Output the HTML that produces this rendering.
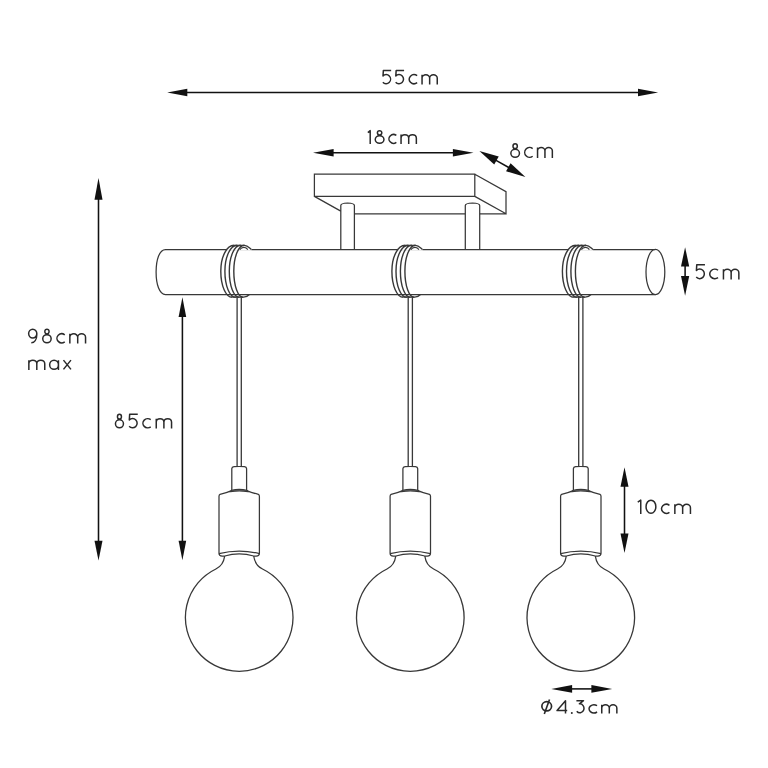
<!DOCTYPE html>
<html><head><meta charset="utf-8"><style>
html,body{margin:0;padding:0;background:#fff;}
svg{display:block;}
svg{font-family:"Liberation Sans", sans-serif;}
</style></head><body>
<svg width="768" height="768" viewBox="0 0 768 768">
<rect width="768" height="768" fill="#fff"/>
<line x1="186.3" y1="92.5" x2="639" y2="92.5" stroke="#111111" stroke-width="1.55"/>
<path d="M167.2 92.5 L187.3 88.7 L187.3 96.3 Z" fill="#111111"/>
<path d="M658.1 92.5 L638 88.7 L638 96.3 Z" fill="#111111"/>
<line x1="332.6" y1="152.8" x2="453.9" y2="152.8" stroke="#111111" stroke-width="1.55"/>
<path d="M313 152.8 L333.6 149 L333.6 156.6 Z" fill="#111111"/>
<path d="M473.5 152.8 L452.9 149 L452.9 156.6 Z" fill="#111111"/>
<line x1="495.61" y1="160.13" x2="509.19" y2="167.77" stroke="#111111" stroke-width="1.55"/>
<path d="M479.4 151 L494.22 164.62 L498.74 156.61 Z" fill="#111111"/>
<path d="M525.4 176.9 L506.06 171.29 L510.58 163.28 Z" fill="#111111"/>
<line x1="685.1" y1="265.6" x2="685.1" y2="276.9" stroke="#111111" stroke-width="1.55"/>
<path d="M685.1 247.2 L689.2 266.6 L681 266.6 Z" fill="#111111"/>
<path d="M685.1 295.8 L689.2 275.9 L681 275.9 Z" fill="#111111"/>
<line x1="98.5" y1="198.7" x2="98.5" y2="541.8" stroke="#111111" stroke-width="1.55"/>
<path d="M98.5 177.9 L102.5 199.7 L94.5 199.7 Z" fill="#111111"/>
<path d="M98.5 560.6 L102.5 540.8 L94.5 540.8 Z" fill="#111111"/>
<line x1="182.4" y1="316" x2="182.4" y2="541.8" stroke="#111111" stroke-width="1.55"/>
<path d="M182.4 297.3 L186.2 317 L178.6 317 Z" fill="#111111"/>
<path d="M182.4 560.3 L186.2 540.8 L178.6 540.8 Z" fill="#111111"/>
<line x1="624.5" y1="485.8" x2="624.5" y2="534.5" stroke="#111111" stroke-width="1.55"/>
<path d="M624.5 467.2 L628.5 486.8 L620.5 486.8 Z" fill="#111111"/>
<path d="M624.5 553.1 L628.5 533.5 L620.5 533.5 Z" fill="#111111"/>
<line x1="571.1" y1="688.9" x2="592.4" y2="688.9" stroke="#111111" stroke-width="1.55"/>
<path d="M551.3 688.9 L572.1 685 L572.1 692.8 Z" fill="#111111"/>
<path d="M612.2 688.9 L591.4 685 L591.4 692.8 Z" fill="#111111"/>
<path d="M314.4 174.2 H474.8 V196.4 H314.4 Z M474.8 174.2 L506 191.7 V213.8 L474.8 196.4 M314.4 196.4 L340.8 211.1 M354.4 213.8 H465.3 M479.7 213.8 H506" stroke="#383838" stroke-width="1.25" fill="none" stroke-linejoin="miter"/>
<path d="M340.8 249.6 V205.5 Q340.8 203.2 347.6 203 Q354.4 203.2 354.4 205.5 V249.6" stroke="#383838" stroke-width="1.25" fill="none"/>
<path d="M465.3 249.6 V205.5 Q465.3 203.2 472.5 203 Q479.7 203.2 479.7 205.5 V249.6" stroke="#383838" stroke-width="1.25" fill="none"/>
<path d="M165.5 249.6 H655.4 M165.5 294.5 H655.4 M165.5 249.6 C159.3 249.6 156.1 260 156.1 272 C156.1 284 159.3 294.5 165.5 294.5" stroke="#383838" stroke-width="1.25" fill="none"/>
<ellipse cx="655.4" cy="272" rx="9.4" ry="22.6" stroke="#383838" stroke-width="1.25" fill="none"/>
<path d="M227 248.6 H251.5 V250.6 H227 Z" fill="#fff"/>
<path d="M234.1 245.3 C226.65 245.3 220.8 256.7 220.8 271.2 C220.8 285.76 225.82 297.2 232.2 297.2 M237.3 245.3 C230.36 245.3 224.9 256.7 224.9 271.2 C224.9 285.76 229.65 297.2 235.7 297.2 M240.7 245.3 C234.32 245.3 229.3 256.7 229.3 271.2 C229.3 285.76 233.74 297.2 239.4 297.2 M244.4 245.3 C238.46 245.3 233.8 256.7 233.8 271.2 C233.8 285.76 237.94 297.2 243.2 297.2" stroke="#383838" stroke-width="1.4" fill="none"/>
<path d="M234.1 245.3 H244.4 C247.4 245.3 248.7 247.2 251.4 249.6" stroke="#383838" stroke-width="1.3" fill="none"/>
<path d="M239.8 249.6 C241.7 247 245.7 246.2 247.8 249.6" stroke="#383838" stroke-width="1.1" fill="none"/>
<path d="M232.2 297.2 H243.6 C246.2 297.2 248 296 249.4 294.5" stroke="#383838" stroke-width="1.3" fill="none"/>
<path d="M398.1 248.6 H422.6 V250.6 H398.1 Z" fill="#fff"/>
<path d="M405.2 245.3 C397.75 245.3 391.9 256.7 391.9 271.2 C391.9 285.76 396.92 297.2 403.3 297.2 M408.4 245.3 C401.46 245.3 396 256.7 396 271.2 C396 285.76 400.75 297.2 406.8 297.2 M411.8 245.3 C405.42 245.3 400.4 256.7 400.4 271.2 C400.4 285.76 404.84 297.2 410.5 297.2 M415.5 245.3 C409.56 245.3 404.9 256.7 404.9 271.2 C404.9 285.76 409.04 297.2 414.3 297.2" stroke="#383838" stroke-width="1.4" fill="none"/>
<path d="M405.2 245.3 H415.5 C418.5 245.3 419.8 247.2 422.5 249.6" stroke="#383838" stroke-width="1.3" fill="none"/>
<path d="M410.9 249.6 C412.8 247 416.8 246.2 418.9 249.6" stroke="#383838" stroke-width="1.1" fill="none"/>
<path d="M403.3 297.2 H414.7 C417.3 297.2 419.1 296 420.5 294.5" stroke="#383838" stroke-width="1.3" fill="none"/>
<path d="M568.6 248.6 H593.1 V250.6 H568.6 Z" fill="#fff"/>
<path d="M575.7 245.3 C568.25 245.3 562.4 256.7 562.4 271.2 C562.4 285.76 567.42 297.2 573.8 297.2 M578.9 245.3 C571.96 245.3 566.5 256.7 566.5 271.2 C566.5 285.76 571.25 297.2 577.3 297.2 M582.3 245.3 C575.92 245.3 570.9 256.7 570.9 271.2 C570.9 285.76 575.34 297.2 581 297.2 M586 245.3 C580.06 245.3 575.4 256.7 575.4 271.2 C575.4 285.76 579.54 297.2 584.8 297.2" stroke="#383838" stroke-width="1.4" fill="none"/>
<path d="M575.7 245.3 H586 C589 245.3 590.3 247.2 593 249.6" stroke="#383838" stroke-width="1.3" fill="none"/>
<path d="M581.4 249.6 C583.3 247 587.3 246.2 589.4 249.6" stroke="#383838" stroke-width="1.1" fill="none"/>
<path d="M573.8 297.2 H585.2 C587.8 297.2 589.6 296 591 294.5" stroke="#383838" stroke-width="1.3" fill="none"/>
<path d="M237.1 296 V466.8 M241.3 296 V466.8" stroke="#383838" stroke-width="1.3" fill="none"/>
<path d="M231.8 490.2 V468.6 Q231.9 466.9 234 466.7 Q239.2 466.3 244.4 466.7 Q246.5 466.9 246.6 468.6 V490.2" stroke="#383838" stroke-width="1.25" fill="none"/>
<path d="M231.6 490.2 Q239.2 488.5 246.8 490.2 L248 491.6 Q239.2 490.4 230.4 491.6 Z" stroke="#383838" stroke-width="1.1" fill="#777"/>
<path d="M231.6 490.6 Q226.2 493 220 494.3 Q219 494.7 219 496.2 V553.2 Q219 556 222.2 556 L224.7 556" stroke="#383838" stroke-width="1.25" fill="none"/>
<path d="M246.8 490.6 Q252.2 493 258.4 494.3 Q259.4 494.7 259.4 496.2 V553.2 Q259.4 556 256.2 556 L253.7 556" stroke="#383838" stroke-width="1.25" fill="none"/>
<path d="M219 553.6 Q239.2 548.6 259.4 553.6 M224.7 556 Q239.2 551.6 253.7 556" stroke="#383838" stroke-width="1.3" fill="none"/>
<path d="M224.7 556 C223.7 563 221.2 566.5 215.9 569 A53.8 53.8 0 1 0 262.5 569 C257.2 566.5 254.7 563 253.7 556" stroke="#383838" stroke-width="1.3" fill="none"/>
<path d="M408.2 296 V466.8 M412.4 296 V466.8" stroke="#383838" stroke-width="1.3" fill="none"/>
<path d="M402.9 490.2 V468.6 Q403 466.9 405.1 466.7 Q410.3 466.3 415.5 466.7 Q417.6 466.9 417.7 468.6 V490.2" stroke="#383838" stroke-width="1.25" fill="none"/>
<path d="M402.7 490.2 Q410.3 488.5 417.9 490.2 L419.1 491.6 Q410.3 490.4 401.5 491.6 Z" stroke="#383838" stroke-width="1.1" fill="#777"/>
<path d="M402.7 490.6 Q397.3 493 391.1 494.3 Q390.1 494.7 390.1 496.2 V553.2 Q390.1 556 393.3 556 L395.8 556" stroke="#383838" stroke-width="1.25" fill="none"/>
<path d="M417.9 490.6 Q423.3 493 429.5 494.3 Q430.5 494.7 430.5 496.2 V553.2 Q430.5 556 427.3 556 L424.8 556" stroke="#383838" stroke-width="1.25" fill="none"/>
<path d="M390.1 553.6 Q410.3 548.6 430.5 553.6 M395.8 556 Q410.3 551.6 424.8 556" stroke="#383838" stroke-width="1.3" fill="none"/>
<path d="M395.8 556 C394.8 563 392.3 566.5 387 569 A53.8 53.8 0 1 0 433.6 569 C428.3 566.5 425.8 563 424.8 556" stroke="#383838" stroke-width="1.3" fill="none"/>
<path d="M578.7 296 V466.8 M582.9 296 V466.8" stroke="#383838" stroke-width="1.3" fill="none"/>
<path d="M573.4 490.2 V468.6 Q573.5 466.9 575.6 466.7 Q580.8 466.3 586 466.7 Q588.1 466.9 588.2 468.6 V490.2" stroke="#383838" stroke-width="1.25" fill="none"/>
<path d="M573.2 490.2 Q580.8 488.5 588.4 490.2 L589.6 491.6 Q580.8 490.4 572 491.6 Z" stroke="#383838" stroke-width="1.1" fill="#777"/>
<path d="M573.2 490.6 Q567.8 493 561.6 494.3 Q560.6 494.7 560.6 496.2 V553.2 Q560.6 556 563.8 556 L566.3 556" stroke="#383838" stroke-width="1.25" fill="none"/>
<path d="M588.4 490.6 Q593.8 493 600 494.3 Q601 494.7 601 496.2 V553.2 Q601 556 597.8 556 L595.3 556" stroke="#383838" stroke-width="1.25" fill="none"/>
<path d="M560.6 553.6 Q580.8 548.6 601 553.6 M566.3 556 Q580.8 551.6 595.3 556" stroke="#383838" stroke-width="1.3" fill="none"/>
<path d="M566.3 556 C565.3 563 562.8 566.5 557.5 569 A53.8 53.8 0 1 0 604.1 569 C598.8 566.5 596.3 563 595.3 556" stroke="#383838" stroke-width="1.3" fill="none"/>
<path d="M391.15 70.55 H383.36 L383.01 75.92 A4.42 4.53 0 1 1 382.85 82.15 M404.1 70.55 H396.16 L395.81 75.92 A4.51 4.53 0 1 1 395.65 82.15 M417.15 75.69 A4.95 4.45 0 1 0 417.15 82.71 M422.05 84.4 V74.75 M422.05 78.09 A3.8 3.34 0 0 1 429.65 78.09 V84.4 M429.65 78.09 A3.8 3.34 0 0 1 437.25 78.09 V84.4 M367.85 132.65 L370.2 130.65 V144 M375.25 139.52 A4.35 3.73 0 1 0 383.95 139.52 A4.35 3.73 0 1 0 375.25 139.52 M377.39 132.85 A2.21 2.2 0 1 0 381.81 132.85 A2.21 2.2 0 1 0 377.39 132.85 M396.35 135.47 A4.58 4.35 0 1 0 396.35 142.33 M401.05 144 V134.55 M401.05 137.92 A3.83 3.37 0 0 1 408.7 137.92 V144 M408.7 137.92 A3.83 3.37 0 0 1 416.35 137.92 V144 M510.85 153.27 A4.3 3.98 0 1 0 519.45 153.27 A4.3 3.98 0 1 0 510.85 153.27 M512.97 146.19 A2.18 2.34 0 1 0 517.33 146.19 A2.18 2.34 0 1 0 512.97 146.19 M532.65 148.58 A4.89 4.85 0 1 0 532.65 156.22 M537.55 158 V147.55 M537.55 150.81 A3.7 3.26 0 0 1 544.95 150.81 V158 M544.95 150.81 A3.7 3.26 0 0 1 552.35 150.81 V158 M704.95 264.75 H696.76 L696.41 270.5 A4.65 4.77 0 1 1 696.24 277.07 M718.05 270.25 A5.14 4.7 0 1 0 718.05 277.65 M723.45 279.4 V269.25 M723.45 272.64 A3.85 3.39 0 0 1 731.15 272.64 V279.4 M731.15 272.64 A3.85 3.39 0 0 1 738.85 272.64 V279.4 M28.65 333.57 A4.09 4.42 0 1 0 36.83 333.57 A4.09 4.42 0 1 0 28.65 333.57 M36.83 334.37 C36.83 339.85 34.33 342.85 31.3 342.85 M42.75 338.77 A4.2 4.08 0 1 0 51.15 338.77 A4.2 4.08 0 1 0 42.75 338.77 M44.83 331.55 A2.12 2.4 0 1 0 49.07 331.55 A2.12 2.4 0 1 0 44.83 331.55 M64.75 334.8 A4.83 4.5 0 1 0 64.75 341.9 M69.85 343.6 V333.85 M69.85 337.3 A3.92 3.45 0 0 1 77.7 337.3 V343.6 M77.7 337.3 A3.92 3.45 0 0 1 85.55 337.3 V343.6 M28.85 370.1 V360.15 M28.85 363.65 A3.97 3.5 0 0 1 36.8 363.65 V370.1 M36.8 363.65 A3.97 3.5 0 0 1 44.75 363.65 V370.1 M49.65 364.75 A4.4 4.6 0 1 0 58.45 364.75 A4.4 4.6 0 1 0 49.65 364.75 M58.45 360.15 V370.1 M63.45 360.15 L70.95 369.35 M70.95 360.15 L63.45 369.35 M115.45 423.84 A4 4.01 0 1 0 123.45 423.84 A4 4.01 0 1 0 115.45 423.84 M117.45 416.71 A2 2.36 0 1 0 121.45 416.71 A2 2.36 0 1 0 117.45 416.71 M137.75 414.35 H129.66 L129.31 419.91 A4.59 4.65 0 1 1 129.14 426.31 M150.75 419.63 A4.83 4.6 0 1 0 150.75 426.87 M156.25 428.6 V418.65 M156.25 422.02 A3.83 3.37 0 0 1 163.9 422.02 V428.6 M163.9 422.02 A3.83 3.37 0 0 1 171.55 422.02 V428.6 M637.75 502.15 L640.75 500.15 V514 M646.05 506.7 A4.9 6.55 0 1 0 655.85 506.7 A4.9 6.55 0 1 0 646.05 506.7 M669.45 505.29 A4.92 4.45 0 1 0 669.45 512.31 M674.85 514 V504.35 M674.85 507.78 A3.9 3.43 0 0 1 682.65 507.78 V514 M682.65 507.78 A3.9 3.43 0 0 1 690.45 507.78 V514 M565.5 713.6 V700.65 L557.05 710.6 H567.2 M576.4 700.65 H583.5 L579.39 703.84 A4.07 4.52 0 1 1 576.77 711.24 M597.05 705.7 A4.95 4 0 1 0 597.05 712 M601.75 713.6 V704.85 M601.75 708.17 A3.77 3.32 0 0 1 609.3 708.17 V713.6 M609.3 708.17 A3.77 3.32 0 0 1 616.85 708.17 V713.6" stroke="#2a2a2a" stroke-width="1.5" fill="none" stroke-linecap="butt" stroke-linejoin="round"/>
<circle cx="571.8" cy="712.9" r="1.0" fill="#2a2a2a"/>
<ellipse cx="546.7" cy="706.3" rx="4.85" ry="4.6" stroke="#2a2a2a" stroke-width="1.7" fill="none"/><line x1="544.3" y1="714" x2="549.5" y2="699.4" stroke="#2a2a2a" stroke-width="1.6"/>
</svg>
</body></html>
